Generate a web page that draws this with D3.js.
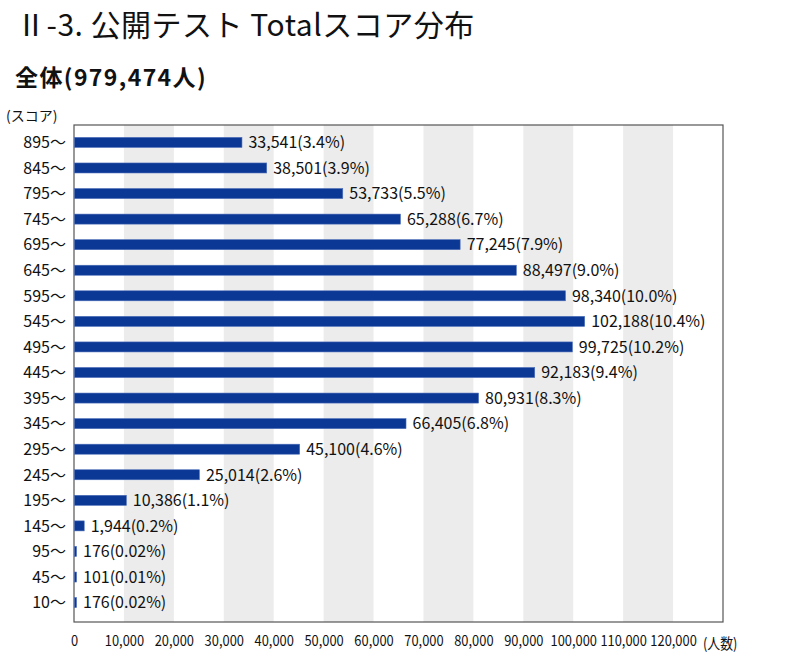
<!DOCTYPE html>
<html>
<head>
<meta charset="utf-8">
<script src="https://cdn.jsdelivr.net/npm/d3@7"></script>
<style>
  body { margin: 0; background: #fff; }
  svg text { font-family: "Noto Sans CJK JP", "Noto Sans", sans-serif; }
</style>
</head>
<body>
<svg id="chart" width="800" height="661"></svg>
<script>
// score bands, top to bottom
const scoreBands = ["895～", "845～", "795～", "745～", "695～", "645～", "595～", "545～", "495～", "445～",
  "395～", "345～", "295～", "245～", "195～", "145～", "95～", "45～", "10～"];
const counts = [33541, 38501, 53733, 65288, 77245, 88497, 98340, 102188, 99725, 92183,
  80931, 66405, 45100, 25014, 10386, 1944, 176, 101, 176];
const shares = ["3.4%", "3.9%", "5.5%", "6.7%", "7.9%", "9.0%", "10.0%", "10.4%", "10.2%", "9.4%",
  "8.3%", "6.8%", "4.6%", "2.6%", "1.1%", "0.2%", "0.02%", "0.01%", "0.02%"];
const xTicks = [0, 10000, 20000, 30000, 40000, 50000, 60000, 70000, 80000, 90000, 100000, 110000, 120000];

const svg = d3.select("#chart");
const plotLeft = 74, plotRight = 723, plotTop = 125, plotBottom = 622;

const x = d3.scaleLinear().domain([0, 130000]).range([plotLeft, plotRight]);
const y = d3.scalePoint().domain(scoreBands).range([plotTop - 1, plotBottom - 1]).padding(0.72);

// titles
svg.append("text").attr("x", 16).attr("y", 36)
  .attr("font-size", 30).attr("fill", "#111")
  .attr("letter-spacing", 0.5)
  .text("Ⅱ-3. 公開テスト Totalスコア分布");
svg.append("text").attr("x", 15).attr("y", 86)
  .attr("font-size", 23).attr("font-weight", "bold").attr("fill", "#111")
  .attr("letter-spacing", 1.4)
  .text("全体(979,474人)");
svg.append("text").attr("x", 6).attr("y", 121)
  .attr("font-size", 14).attr("fill", "#111")
  .text("(スコア)");

// grey stripes every other 10,000
const stripes = d3.range(10000, 130000, 20000);
svg.append("g").selectAll("rect")
  .data(stripes)
  .join("rect")
  .attr("x", (d) => x(d))
  .attr("y", plotTop)
  .attr("width", (d) => x(d + 10000) - x(d))
  .attr("height", plotBottom - plotTop)
  .attr("fill", "#ececec");

// frame
svg.append("rect")
  .attr("x", plotLeft).attr("y", plotTop)
  .attr("width", plotRight - plotLeft).attr("height", plotBottom - plotTop)
  .attr("fill", "none").attr("stroke", "#555").attr("stroke-width", 1.2);

// bars
const barH = 10;
const barW = (d) => Math.max(x(d) - x(0), 2);
svg.append("g").selectAll("rect")
  .data(counts)
  .join("rect")
  .attr("x", x(0) + 0.5)
  .attr("y", (d, i) => y(scoreBands[i]) - barH / 2)
  .attr("width", barW)
  .attr("height", barH)
  .attr("fill", "#0b3795")
  .attr("stroke", "#4a6cb8")
  .attr("stroke-width", 0.6);

// value labels
svg.append("g").selectAll("text")
  .data(counts)
  .join("text")
  .attr("x", (d) => x(0) + barW(d) + 7)
  .attr("y", (d, i) => y(scoreBands[i]))
  .attr("dy", "0.36em")
  .attr("font-size", 16)
  .attr("fill", "#111")
  .text((d, i) => `${d3.format(",")(d)}(${shares[i]})`);

// y labels
svg.append("g").selectAll("text")
  .data(scoreBands)
  .join("text")
  .attr("x", 66)
  .attr("y", (d) => y(d))
  .attr("dy", "0.36em")
  .attr("text-anchor", "end")
  .attr("font-size", 16)
  .attr("fill", "#111")
  .text((d) => d);

// x axis labels, squeezed like the condensed face in the original
const xAxis = d3.axisBottom(x).tickValues(xTicks).tickSize(0).tickPadding(0)
  .tickFormat(d3.format(","));
const gx = svg.append("g").attr("transform", `translate(0,${plotBottom + 13})`).call(xAxis);
gx.select(".domain").remove();
gx.selectAll("text")
  .attr("font-size", 15)
  .attr("font-family", "\"Noto Sans CJK JP\", sans-serif")
  .attr("fill", "#111")
  .attr("transform", "scale(0.86,1)");

svg.append("g").attr("transform", `translate(703,${plotBottom + 27})`)
  .append("text")
  .attr("font-size", 15).attr("fill", "#111")
  .attr("transform", "scale(0.86,1)")
  .text("(人数)");
</script>
</body>
</html>
